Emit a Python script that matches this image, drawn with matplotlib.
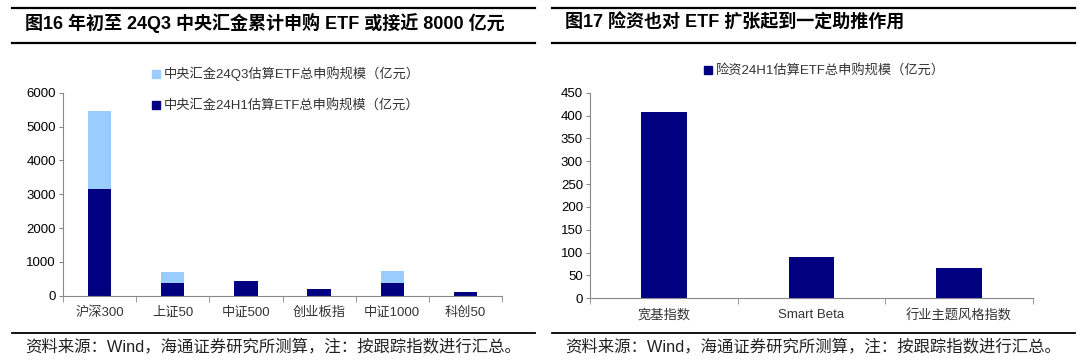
import matplotlib.pyplot as plt
from matplotlib.patches import Patch
from matplotlib.lines import Line2D

plt.rcParams['font.family'] = ['Noto Sans CJK SC', 'DejaVu Sans']
MIX = ['Liberation Sans', 'Noto Sans CJK SC', 'DejaVu Sans']

# left chart: central huijin ETF purchases (100m yuan)
left_cats = ["沪深300", "上证50", "中证500", "创业板指", "中证1000", "科创50"]
h1_vals = [3150, 390, 440, 210, 380, 100]
q3_add = [2300, 310, 0, 0, 360, 0]
left_ticks = [0, 1000, 2000, 3000, 4000, 5000, 6000]

# right chart: insurance ETF purchases (100m yuan)
right_cats = ["宽基指数", "Smart Beta", "行业主题风格指数"]
ins_vals = [408, 90, 67]
right_ticks = [0, 50, 100, 150, 200, 250, 300, 350, 400, 450]

DARK = "#000080"
LIGHT = "#99CCFF"
W, H = 1080, 360


def ax_at(fig, x0, y0, x1, y1):
    return fig.add_axes([x0 / W, 1 - y1 / H, (x1 - x0) / W, (y1 - y0) / H])


def style(ax, n, ticks):
    for s in ("top", "right"):
        ax.spines[s].set_visible(False)
    for s in ("left", "bottom"):
        ax.spines[s].set_color("#888888")
        ax.spines[s].set_linewidth(0.8)
    ax.set_xlim(-0.5, n - 0.5)
    ax.set_ylim(ticks[0], ticks[-1])
    ax.set_yticks(ticks)
    ax.tick_params(axis="y", length=3, color="#888888", labelsize=9.5, pad=2)
    ax.set_xticks(range(n))
    ax.tick_params(axis="x", length=0, labelsize=9.5, pad=8, labelcolor="#333333")
    ax.set_xticks([i - 0.5 for i in range(n + 1)], minor=True)
    ax.tick_params(axis="x", which="minor", length=4, color="#888888")
    for lab in ax.get_yticklabels() + ax.get_xticklabels():
        lab.set_family(MIX)


fig = plt.figure(figsize=(10.8, 3.6), dpi=100)

# header / footer rules
for x0, x1 in ((12, 535), (552, 1075)):
    for y, lw in ((8, 1.6), (43, 1.6), (333, 1.3)):
        fig.add_artist(Line2D([x0 / W, x1 / W], [1 - y / H, 1 - y / H], color="black", lw=lw))

fig.text(25 / W, 1 - 23 / H, "图16 年初至 24Q3 中央汇金累计申购 ETF 或接近 8000 亿元",
         fontsize=13, fontweight="bold", va="center", family=MIX)
fig.text(565 / W, 1 - 23 / H, "图17 险资也对 ETF 扩张起到一定助推作用",
         fontsize=13, fontweight="bold", va="center", family=MIX)
src = "资料来源：Wind，海通证券研究所测算，注：按跟踪指数进行汇总。"
fig.text(25 / W, 1 - 346 / H, src, fontsize=11.8, va="center", color="#222222", family=MIX)
fig.text(565 / W, 1 - 346 / H, src, fontsize=11.8, va="center", color="#222222", family=MIX)

leg_kw = dict(loc="upper left", frameon=False, handlelength=0.6,
              handleheight=0.6, handletextpad=0.3, borderpad=0,
              prop={"family": MIX, "size": 9.5})

# left
ax1 = ax_at(fig, 63, 92.7, 502, 295.7)
x = range(len(left_cats))
ax1.bar(x, h1_vals, width=0.32, color=DARK)
ax1.bar(x, q3_add, width=0.32, bottom=h1_vals, color=LIGHT)
ax1.set_xticklabels(left_cats)
style(ax1, len(left_cats), left_ticks)
lg1 = fig.legend(handles=[Patch(color=LIGHT), Patch(color=DARK)],
                 labels=["中央汇金24Q3估算ETF总申购规模（亿元）", "中央汇金24H1估算ETF总申购规模（亿元）"],
                 bbox_to_anchor=(145 / W, 1 - 60 / H), labelspacing=1.4, **leg_kw)

# right
ax2 = ax_at(fig, 590, 92.7, 1033, 298.3)
ax2.bar(range(len(right_cats)), ins_vals, width=0.31, color=DARK)
ax2.set_xticklabels(right_cats)
style(ax2, len(right_cats), right_ticks)
lg2 = fig.legend(handles=[Patch(color=DARK)], labels=["险资24H1估算ETF总申购规模（亿元）"],
                 bbox_to_anchor=(697 / W, 1 - 58 / H), **leg_kw)
for lg in (lg1, lg2):
    for t in lg.get_texts():
        t.set_color("#333333")

fig.savefig("out.png", dpi=100)
